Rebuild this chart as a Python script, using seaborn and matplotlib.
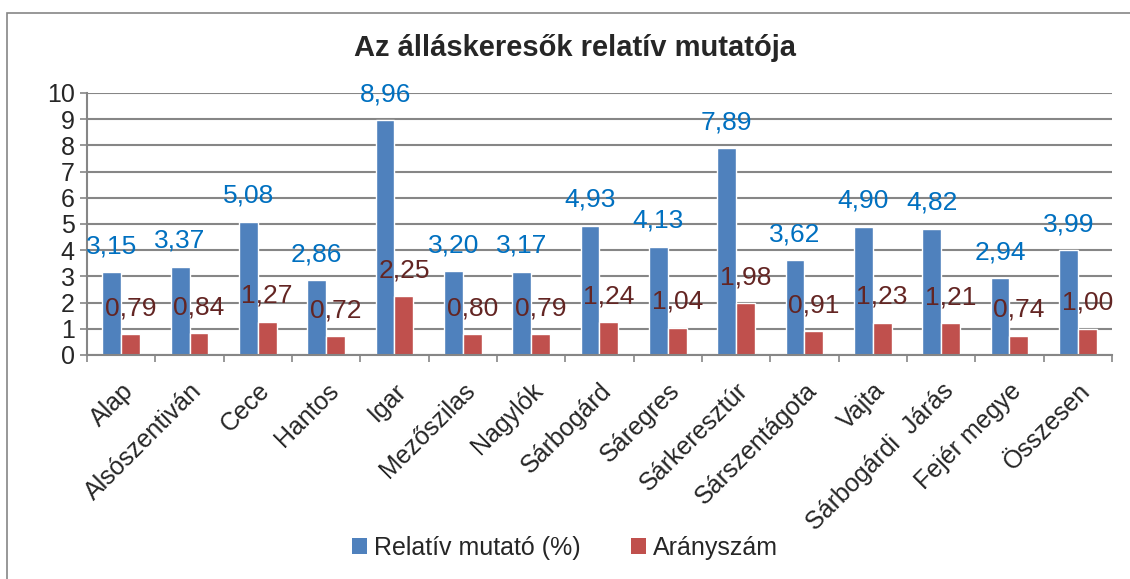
import pandas as pd
import matplotlib
matplotlib.use('Agg')
import matplotlib.pyplot as plt
import seaborn as sns
from matplotlib.patches import Rectangle, Patch
from matplotlib.ticker import FixedLocator

categories = [
    'Alap', 'Alsószentiván', 'Cece', 'Hantos', 'Igar', 'Mezőszilas',
    'Nagylók', 'Sárbogárd', 'Sáregres', 'Sárkeresztúr', 'Sárszentágota',
    'Vajta', 'Sárbogárdi  Járás', 'Fejér megye', 'Összesen'
]
relativ = [3.15, 3.37, 5.08, 2.86, 8.96, 3.20, 3.17, 4.93, 4.13, 7.89, 3.62, 4.90, 4.82, 2.94, 3.99]
aranyszam = [0.79, 0.84, 1.27, 0.72, 2.25, 0.80, 0.79, 1.24, 1.04, 1.98, 0.91, 1.23, 1.21, 0.74, 1.00]
series = ['Relatív mutató (%)', 'Arányszám']

colors = ['#4F81BD', '#C0504D']
label_colors = ['#0070C0', '#632523']
grid_color = '#868686'

df = pd.DataFrame({
    'Település': categories * 2,
    'Érték': relativ + aranyszam,
    'Sorozat': [series[0]] * len(categories) + [series[1]] * len(categories),
})

sns.set_style('white')
plt.rcParams['font.family'] = ['Liberation Sans', 'DejaVu Sans']

fig = plt.figure(figsize=(11.3, 5.79), dpi=100)
ax = fig.add_axes([0.077, 0.387, 0.907, 0.4525])

sns.barplot(
    data=df,
    x='Település',
    y='Érték',
    hue='Sorozat',
    palette=colors,
    width=0.55,
    saturation=1,
    legend=False,
    ax=ax,
)

# adatcímkék tizedesvesszővel
for container, vals, lc in zip(ax.containers, [relativ, aranyszam], label_colors):
    ax.bar_label(
        container,
        labels=[f'{v:.2f}'.replace('.', ',') for v in vals],
        padding=10,
        color=lc,
        fontsize=19,
    )

ax.set_ylim(0, 10)
ax.set_xlim(-0.5, len(categories) - 0.5)
ax.set_yticks(range(0, 11))
ax.yaxis.grid(True, color=grid_color, linewidth=1.5)
ax.set_axisbelow(True)
ax.tick_params(axis='y', length=5, width=1.2, color=grid_color, labelsize=18, pad=4, left=True)
ax.tick_params(axis='x', which='major', length=0, labelsize=18, pad=17)
ax.xaxis.set_minor_locator(FixedLocator([k - 0.5 for k in range(len(categories) + 1)]))
ax.tick_params(axis='x', which='minor', length=5, width=1.2, color=grid_color, bottom=True)
plt.setp(ax.get_xticklabels(), rotation=45, ha='right', rotation_mode='anchor')
ax.set_xlabel('')
ax.set_ylabel('')

for side in ['top', 'right']:
    ax.spines[side].set_visible(False)
for side in ['left', 'bottom']:
    ax.spines[side].set_color(grid_color)
    ax.spines[side].set_linewidth(1.5)

fig.text(0.509, 0.917, 'Az álláskeresők relatív mutatója',
         ha='center', va='center', fontsize=21, fontweight='bold')

handles = [Patch(facecolor=c, edgecolor='none') for c in colors]
fig.legend(handles, series, loc='center', bbox_to_anchor=(0.5, 0.054), ncol=2,
           frameon=False, fontsize=18, handlelength=0.6, handleheight=0.6,
           handletextpad=0.3, columnspacing=2.0)

fig.patches.append(Rectangle((7 / 1130, -0.05), 1.1, 1 - 13 / 579 + 0.05,
                             transform=fig.transFigure, fill=False,
                             edgecolor=grid_color, linewidth=1.2))

fig.savefig('out.png', dpi=100)
